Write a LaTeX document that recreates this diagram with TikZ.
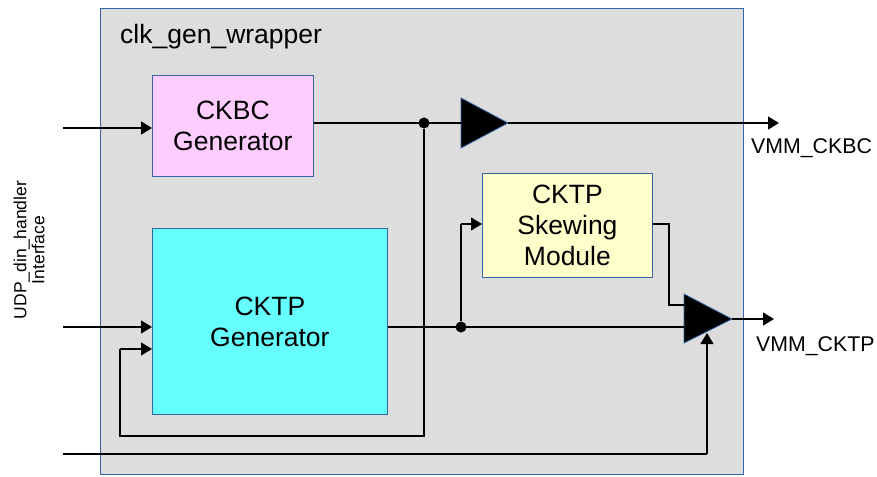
\documentclass[tikz,border=0pt]{standalone}
\usepackage{fontspec}
\setmainfont{Liberation Sans}
\usetikzlibrary{arrows.meta}
\definecolor{wrapfill}{RGB}{221,221,221}
\definecolor{edgeblue}{RGB}{52,101,164}
\definecolor{ckbcfill}{RGB}{255,204,255}
\definecolor{cktpfill}{RGB}{102,255,255}
\definecolor{skewfill}{RGB}{255,255,204}
\tikzset{
  block/.style={draw=edgeblue, line width=0.8pt, anchor=north west, inner sep=0pt,
    align=center, font=\fontsize{26.5}{31}\selectfont},
  wire/.style={line width=1.5pt, black},
  sig/.style={wire, -{Triangle[length=11pt,width=13pt]}},
  dot/.style={circle, fill=black, inner sep=0pt, minimum size=11pt},
  lbl/.style={font=\fontsize{21.3}{24}\selectfont, anchor=west, inner sep=0pt},
  gate/.style={fill=black, draw=edgeblue, line width=0.8pt, line join=miter},
}
\begin{document}
\begin{tikzpicture}[x=1pt,y=-1pt]
\useasboundingbox (0,0) rectangle (877,476);

% wrapper
\path[fill=wrapfill, draw=edgeblue, line width=1pt] (100,9) rectangle (743,474);
\node[anchor=west, inner sep=0pt, font=\fontsize{26.5}{30}\selectfont] (title) at (120,37) {clk\_gen\_wrapper};

% interface label
\node[rotate=90, align=center, inner sep=0pt, font=\fontsize{17.5}{18}\selectfont] (iface) at (29,250)
  {UDP\_din\_handler\\Interface};

% blocks
\node[block, fill=ckbcfill, minimum width=161pt, minimum height=101pt] (ckbc) at (152,75) {CKBC\\Generator};
\node[block, fill=cktpfill, minimum width=235pt, minimum height=186pt] (cktp) at (152,228) {CKTP\\Generator};
\node[block, fill=skewfill, minimum width=170pt, minimum height=104pt] (skew) at (482,173) {CKTP\\Skewing\\Module};

% buffer gate
\coordinate (bufin) at (461,123);
\coordinate (bufout) at (508,123);
\draw[gate] (461,98) -- (508,123) -- (461,148) -- cycle;

% output mux
\coordinate (muxin1) at (684,305);
\coordinate (muxin2) at (684,327);
\coordinate (muxsel) at (707,333);
\coordinate (muxout) at (732,319);
\draw[gate] (684,294) -- (732,319) -- (684,343) -- cycle;

% junction dots
\node[dot] (j1) at (424,123) {};
\node[dot] (j2) at (461,327) {};

% external ports
\coordinate (inA) at (63,128);
\coordinate (inB) at (63,327);
\coordinate (inC) at (63,454);
\coordinate (outA) at (779,123);
\coordinate (outB) at (774,319);

% CKBC path
\draw[sig] (inA) -- (ckbc.west |- inA);
\draw[wire] (ckbc.east |- bufin) -- (bufin);
\draw[sig] (bufout) -- (outA);
\draw[wire] (j1) -- (424,436) -- (120,436) -- (120,349);
\draw[sig] (120,349) -- (152,349);

% CKTP path
\draw[sig] (inB) -- (cktp.west |- inB);
\draw[wire] (cktp.east |- muxin2) -- (muxin2);
\draw[wire] (j2) -- (461,224);
\draw[sig] (461,224) -- (skew.west |- 0,224);
\draw[wire] (skew.east |- 0,224) -- (669,224) -- (669,305) -- (muxin1);
\draw[wire] (inC) -- (707,454);
\draw[sig] (707,454) -- (muxsel);
\draw[sig] (muxout) -- (outB);

% output labels
\node[lbl] (lblA) at (751,148) {VMM\_CKBC};
\node[lbl] (lblB) at (756,346) {VMM\_CKTP};
\end{tikzpicture}
\end{document}
